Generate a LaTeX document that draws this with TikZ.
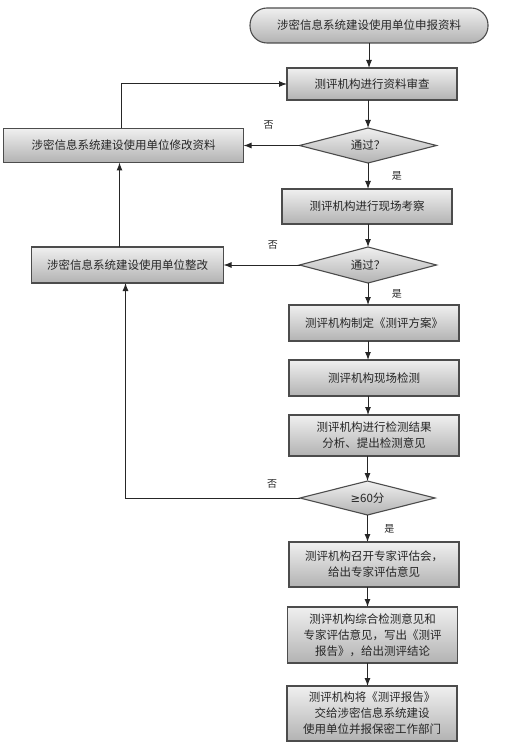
\documentclass[tikz,border=0pt]{standalone}
\usepackage{fontspec}
\setmainfont{Noto Sans CJK SC}
\newfontfamily\symfont{DejaVu Sans}
\usetikzlibrary{positioning,shapes.geometric,arrows.meta}

\begin{document}
\begin{tikzpicture}[
    x=1pt, y=-1pt,
    font=\fontsize{11.5}{16}\selectfont,
    >={Latex[length=8pt,width=6pt]},
    proc/.style={
        draw=black!70, line width=1.1pt, text=black!85,
        top color=black!6, middle color=black!2, bottom color=black!30,
        minimum width=170pt, inner sep=3pt, outer sep=0pt, align=center
    },
    term/.style={proc, rounded corners=17pt, minimum width=238pt, minimum height=35pt},
    dec/.style={
        diamond, draw=black!70, line width=1.1pt, text=black!85,
        top color=black!6, middle color=black!2, bottom color=black!30,
        aspect=3.9, inner sep=0pt, outer sep=0pt, minimum width=137pt, minimum height=35pt
    },
    lbl/.style={font=\fontsize{10}{12}\selectfont, text=black!85},
    flow/.style={->, draw=black!85, line width=1pt},
]
\useasboundingbox (0,0) rectangle (515,743);

% ---- main column ---------------------------------------------------
\node[term] (start) at (369,25.5) {涉密信息系统建设使用单位申报资料};
\node[proc, minimum height=32pt, below=25pt of start, xshift=3pt] (b1) {测评机构进行资料审查};
\node[dec, below=28pt of b1, xshift=-4pt] (d1) {通过？};
\node[proc, minimum height=35pt, below=26pt of d1, xshift=-1pt] (b2) {测评机构进行现场考察};
\node[dec, minimum height=36pt, below=23pt of b2, xshift=1pt] (d2) {通过？};
\node[proc, minimum height=36pt, below=22pt of d2, xshift=6pt] (b3) {测评机构制定《测评方案》};
\node[proc, minimum height=36pt, below=19pt of b3] (b4) {测评机构现场检测};
\node[proc, minimum height=41pt, below=19pt of b4] (b5) {测评机构进行检测结果\\分析、提出检测意见};
\node[dec, minimum width=135pt, minimum height=34pt, below=25pt of b5, xshift=-6.5pt] (d3) {{\symfont ≥}60分};
\node[proc, minimum height=45pt, below=27pt of d3, xshift=6.5pt] (b6) {测评机构召开专家评估会，\\给出专家评估意见};
\node[proc, minimum height=56pt, below=20pt of b6, xshift=-1.5pt] (b7) {测评机构综合检测意见和\\专家评估意见，写出《测评\\报告》，给出测评结论};
\node[proc, minimum height=55pt, below=23pt of b7, xshift=-0.5pt] (b8) {测评机构将《测评报告》\\交给涉密信息系统建设\\使用单位并报保密工作部门};

% ---- side column ---------------------------------------------------
\node[proc, minimum width=240pt, minimum height=34pt, left=56pt of d1] (fix1) {涉密信息系统建设使用单位修改资料};
\node[proc, minimum width=192pt, minimum height=36pt, left=76pt of d2] (fix2) {涉密信息系统建设使用单位整改};

% ---- flow (top-down) -----------------------------------------------
\draw[flow] (start.south) -- (start.south |- b1.north);
\draw[flow] (d1.north |- b1.south) -- (d1.north);
\draw[flow] (d1.south) -- (d1.south |- b2.north) node[lbl, midway, right=20pt] {是};
\draw[flow] (d2.north |- b2.south) -- (d2.north);
\draw[flow] (d2.south) -- (d2.south |- b3.north) node[lbl, midway, right=20pt] {是};
\draw[flow] (b3.south -| d2) -- (b4.north -| d2);
\draw[flow] (b4.south -| d2) -- (b5.north -| d2);
\draw[flow] (d3.north |- b5.south) -- (d3.north);
\draw[flow] (d3.south) -- (d3.south |- b6.north) node[lbl, midway, right=13pt] {是};
\draw[flow] (b6.south -| d3) -- (b7.north -| d3);
\draw[flow] (b7.south -| d3) -- (b8.north -| d3);

% ---- feedback loops ------------------------------------------------
\draw[flow] (d1.west) -- (d1.west -| fix1.east) node[lbl, pos=0.55, above=12pt] {否};
\draw[flow] (d2.west) -- (d2.west -| fix2.east) node[lbl, pos=0.35, above=12pt] {否};
\draw[flow] (d3.west) -| ([xshift=-2pt]fix2.south) node[lbl, pos=0.08, above=6pt] {否};
\draw[flow] ([xshift=-8pt]fix2.north) -- ([xshift=-8pt]fix2.north |- fix1.south);
\draw[flow] ([xshift=-2pt]fix1.north) |- (b1.west);

\end{tikzpicture}
\end{document}
